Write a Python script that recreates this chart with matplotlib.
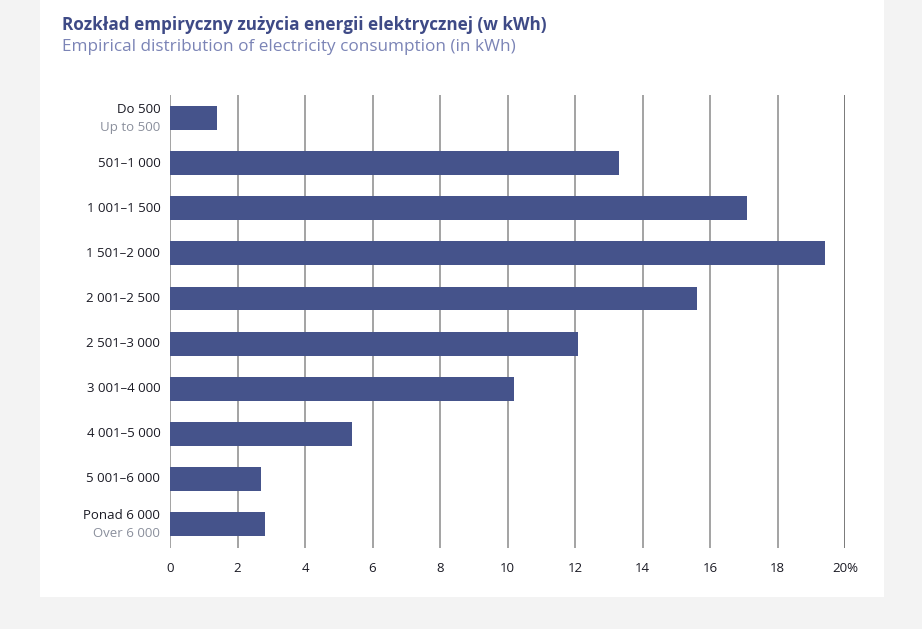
import numpy as np
import matplotlib.pyplot as plt
from matplotlib.patches import Rectangle
from matplotlib.transforms import blended_transform_factory, offset_copy

# data
labels_pl = ["Do 500", "501\u20131 000", "1 001\u20131 500", "1 501\u20132 000",
             "2 001\u20132 500", "2 501\u20133 000", "3 001\u20134 000",
             "4 001\u20135 000", "5 001\u20136 000", "Ponad 6 000"]
labels_en = ["Up to 500", "", "", "", "", "", "", "", "", "Over 6 000"]
values = [1.4, 13.3, 17.1, 19.4, 15.6, 12.1, 10.2, 5.4, 2.7, 2.8]
xticks = [0, 2, 4, 6, 8, 10, 12, 14, 16, 18, 20]
xtick_labels = ["0", "2", "4", "6", "8", "10", "12", "14", "16", "18", "20%"]

plt.rcParams['font.family'] = ['Open Sans', 'DejaVu Sans']

bar_color = "#45538b"
title_color = "#3e4a86"
sub_color = "#7b84b6"

fig = plt.figure(figsize=(9.22, 6.29), dpi=100)
fig.patch.set_facecolor("#f3f3f3")
# white panel behind the chart
fig.patches.append(Rectangle((40 / 922, 1 - 597 / 629), 844 / 922, 597 / 629,
                             transform=fig.transFigure, facecolor="white",
                             edgecolor="none", zorder=-5))

W, H = 922, 629
ax = fig.add_axes([170 / W, 1 - 548 / H, 675 / W, 453 / H])
ax.set_facecolor("none")
ax.set_zorder(2)

y = np.arange(len(values))
ax.barh(y, values, height=0.53, color=bar_color, zorder=3)

ax.set_xlim(0, 20)
ax.set_ylim(9.53, -0.51)

# vertical grid lines
for xv in xticks:
    c = "#6e6e6e" if xv == 20 else "#9c9c9c"
    ax.axvline(xv, color=c, lw=1.3, zorder=1)

ax.set_xticks(xticks)
ax.set_xticklabels(xtick_labels, fontsize=9.5, color="#1a1a24")
ax.tick_params(axis="x", length=0, pad=10)
ax.set_yticks([])
for s in ax.spines.values():
    s.set_visible(False)

# category labels
trans = offset_copy(blended_transform_factory(ax.transAxes, ax.transData),
                    fig=fig, x=-7, y=0, units="points")
for i in range(len(values)):
    if labels_en[i]:
        ax.text(0, i, labels_pl[i], transform=offset_copy(trans, fig=fig, y=6, units="points"),
                ha="right", va="center", fontsize=9.5, color="#1a1a24")
        ax.text(0, i, labels_en[i], transform=offset_copy(trans, fig=fig, y=-6.5, units="points"),
                ha="right", va="center", fontsize=9.5, color="#8a8f9c")
    else:
        ax.text(0, i, labels_pl[i], transform=trans,
                ha="right", va="center", fontsize=9.5, color="#1a1a24")

# titles
fig.text(62 / W, 1 - 25 / H, "Rozkład empiryczny zużycia energii elektrycznej (w kWh)",
         fontsize=12.3, fontweight="bold", color=title_color, va="center", ha="left")
fig.text(62 / W, 1 - 47 / H, "Empirical distribution of electricity consumption (in kWh)",
         fontsize=12.3, color=sub_color, va="center", ha="left")

fig.savefig("out.png", dpi=100, facecolor=fig.get_facecolor())
